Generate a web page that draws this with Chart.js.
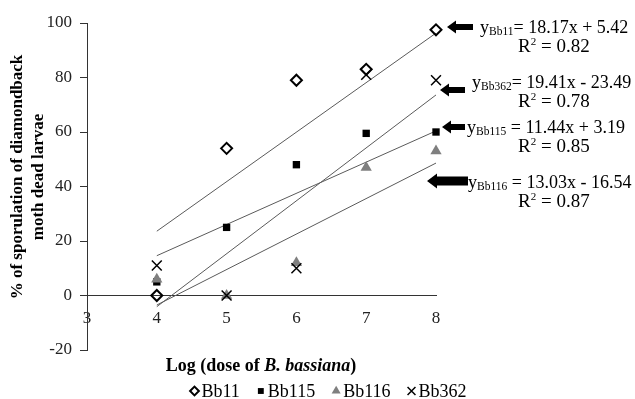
<!DOCTYPE html>
<html>
<head>
<meta charset="utf-8">
<script src="https://cdn.jsdelivr.net/npm/chart.js@4/dist/chart.umd.min.js"></script>
<style>
  body { margin: 0; background: #fff; }
  canvas { display: block; }
</style>
</head>
<body>
<canvas id="sporChart" width="635" height="399"></canvas>
<script>
// doses (log) and % sporulation
const doses = [4, 5, 6, 7, 8];
const bb11 = [0, 54, 79, 83, 97.5];
const bb115 = [5, 25, 48, 59.5, 60];
const bb116 = [6, 0, 12, 47, 53];
const bb362 = [11, 0, 10, 81, 79];

// trend lines, value at dose 4 and dose 8
const trendDoses = [4, 8];
const trend11 = [23.6, 96.3];
const trend115 = [14.6, 60.4];
const trend116 = [-3.5, 48.6];
const trend362 = [-4.1, 73.6];

const yTicks = [-20, 0, 20, 40, 60, 80, 100];
const xTicks = [3, 4, 5, 6, 7, 8];

// regression equations printed on the right
const eqNames = ['Bb11', 'Bb362', 'Bb115', 'Bb116'];
const eqRight = ['= 18.17x + 5.42', '= 19.41x - 23.49', ' = 11.44x + 3.19', ' = 13.03x - 16.54'];
const eqR2 = ['0.82', '0.78', '0.85', '0.87'];

const serif = '"Liberation Serif", "Times New Roman", serif';

function toPoints(xs, ys) {
    return xs.map((x, i) => ({ x: x, y: ys[i] }));
}

const markers = {
    Bb11: { pointStyle: 'rectRot', radius: 5.5, borderWidth: 2, fill: 'rgba(0,0,0,0)', stroke: '#000' },
    Bb115: { pointStyle: 'rect', radius: 5.2, borderWidth: 0, fill: '#000', stroke: '#000' },
    Bb116: { pointStyle: 'triangle', radius: 6.5, borderWidth: 0, fill: '#7f7f7f', stroke: '#7f7f7f' },
    Bb362: { pointStyle: 'crossRot', radius: 7, borderWidth: 1.5, fill: '#000', stroke: '#000' }
};

function pointSet(label, values, order) {
    const m = markers[label];
    return {
        type: 'scatter',
        label: label,
        data: toPoints(doses, values),
        pointStyle: m.pointStyle,
        pointRadius: m.radius,
        pointHoverRadius: m.radius,
        pointBorderWidth: m.borderWidth,
        pointBackgroundColor: m.fill,
        pointBorderColor: m.stroke,
        showLine: false,
        clip: false,
        order: order
    };
}

function trendSet(values) {
    return {
        type: 'line',
        label: 'trend',
        data: toPoints(trendDoses, values),
        borderColor: '#5a5a5a',
        borderWidth: 1,
        pointRadius: 0,
        fill: false,
        clip: false,
        order: 10
    };
}

// arrow: tip x, tail x, centre y, head half height, shaft half height, head length
function drawArrow(ctx, tip, tail, y, hh, sh, hl) {
    ctx.beginPath();
    ctx.moveTo(tip, y);
    ctx.lineTo(tip + hl, y - hh);
    ctx.lineTo(tip + hl, y - sh);
    ctx.lineTo(tail, y - sh);
    ctx.lineTo(tail, y + sh);
    ctx.lineTo(tip + hl, y + sh);
    ctx.lineTo(tip + hl, y + hh);
    ctx.closePath();
    ctx.fill();
}

const annotationPlugin = {
    id: 'annotations',
    afterDraw(chart) {
        const ctx = chart.ctx;
        ctx.save();
        ctx.fillStyle = '#000';
        ctx.textAlign = 'left';
        ctx.textBaseline = 'alphabetic';

        // y axis title (two lines, rotated)
        ctx.save();
        ctx.font = 'bold 17px ' + serif;
        ctx.textAlign = 'center';
        ctx.textBaseline = 'middle';
        ctx.translate(18, 177);
        ctx.rotate(-Math.PI / 2);
        ctx.fillText('% of sporulation of diamondback', 0, 0);
        ctx.fillText('moth dead larvae', 0, 21);
        ctx.restore();

        // x axis title with italic species name
        const parts = [['bold 18px ', 'Log (dose of '], ['italic bold 18px ', 'B. bassiana'], ['bold 18px ', ')']];
        let total = 0;
        parts.forEach(p => { ctx.font = p[0] + serif; total += ctx.measureText(p[1]).width; });
        let tx = 261 - total / 2;
        parts.forEach(p => {
            ctx.font = p[0] + serif;
            ctx.fillText(p[1], tx, 371);
            tx += ctx.measureText(p[1]).width;
        });

        // legend
        const names = ['Bb11', 'Bb115', 'Bb116', 'Bb362'];
        ctx.font = '18px ' + serif;
        const markW = 12;
        const gap = 16;
        let lw = 0;
        names.forEach((n, i) => { lw += markW + ctx.measureText(n).width + (i < names.length - 1 ? gap : 0); });
        let lx = 328 - lw / 2;
        names.forEach(n => {
            const m = markers[n];
            ctx.fillStyle = m.fill;
            ctx.strokeStyle = m.stroke;
            ctx.lineWidth = m.borderWidth;
            Chart.helpers.drawPoint(ctx, { pointStyle: m.pointStyle, radius: m.radius * 0.8, rotation: 0, borderWidth: m.borderWidth }, lx + 5, 391);
            ctx.fillStyle = '#000';
            ctx.fillText(n, lx + markW, 397);
            lx += markW + ctx.measureText(n).width + gap;
        });

        // arrows and equations
        const arrows = [
            [447, 473, 27, 6.5, 3, 9],
            [440, 465, 90, 6.5, 3, 9],
            [442, 465, 127, 6.5, 3, 9],
            [427, 468, 181, 7.5, 4.5, 10]
        ];
        const eqX = [480, 472, 467, 468];
        const eqBase = [33, 88, 133, 188];
        ctx.fillStyle = '#000';
        eqNames.forEach((n, i) => {
            const a = arrows[i];
            drawArrow(ctx, a[0], a[1], a[2], a[3], a[4], a[5]);
            let x = eqX[i];
            ctx.font = '18px ' + serif;
            ctx.fillText('y', x, eqBase[i]);
            x += ctx.measureText('y').width;
            ctx.font = '11.5px ' + serif;
            ctx.fillText(n, x, eqBase[i] + 2);
            x += ctx.measureText(n).width;
            ctx.font = '18px ' + serif;
            ctx.fillText(eqRight[i], x, eqBase[i]);

            // R squared line
            const rb = eqBase[i] + 19;
            let rx = 518;
            ctx.font = '19px ' + serif;
            ctx.fillText('R', rx, rb);
            rx += ctx.measureText('R').width;
            ctx.font = '11px ' + serif;
            ctx.fillText('2', rx, rb - 7);
            rx += ctx.measureText('2').width;
            ctx.font = '19px ' + serif;
            ctx.fillText(' = ' + eqR2[i], rx, rb);
        });
        ctx.restore();
    }
};

new Chart(document.getElementById('sporChart'), {
    type: 'scatter',
    data: {
        datasets: [
            pointSet('Bb11', bb11, 0),
            pointSet('Bb115', bb115, 3),
            pointSet('Bb116', bb116, 2),
            pointSet('Bb362', bb362, 1),
            trendSet(trend11),
            trendSet(trend115),
            trendSet(trend116),
            trendSet(trend362)
        ]
    },
    options: {
        responsive: false,
        animation: false,
        layout: {
            padding: { left: 0, right: 199, top: 23, bottom: 49 }
        },
        plugins: {
            legend: { display: false },
            tooltip: { enabled: false }
        },
        scales: {
            x: {
                type: 'linear',
                position: { y: 0 },
                min: xTicks[0],
                max: xTicks[xTicks.length - 1],
                afterBuildTicks: scale => { scale.ticks = xTicks.map(v => ({ value: v })); },
                grid: { display: true, drawOnChartArea: false, tickLength: 8, tickColor: 'rgba(0,0,0,0)' },
                border: { color: '#333', width: 1 },
                ticks: { color: '#222', padding: 5, font: { family: serif, size: 17 } }
            },
            y: {
                min: yTicks[0],
                max: yTicks[yTicks.length - 1],
                afterBuildTicks: scale => { scale.ticks = yTicks.map(v => ({ value: v })); },
                afterFit: scale => { scale.width = 87; },
                grid: { display: true, drawOnChartArea: false, tickLength: 7, tickColor: '#333' },
                border: { color: '#333', width: 1 },
                ticks: { color: '#222', padding: 8, font: { family: serif, size: 17 } }
            }
        }
    },
    plugins: [annotationPlugin]
});
</script>
</body>
</html>
